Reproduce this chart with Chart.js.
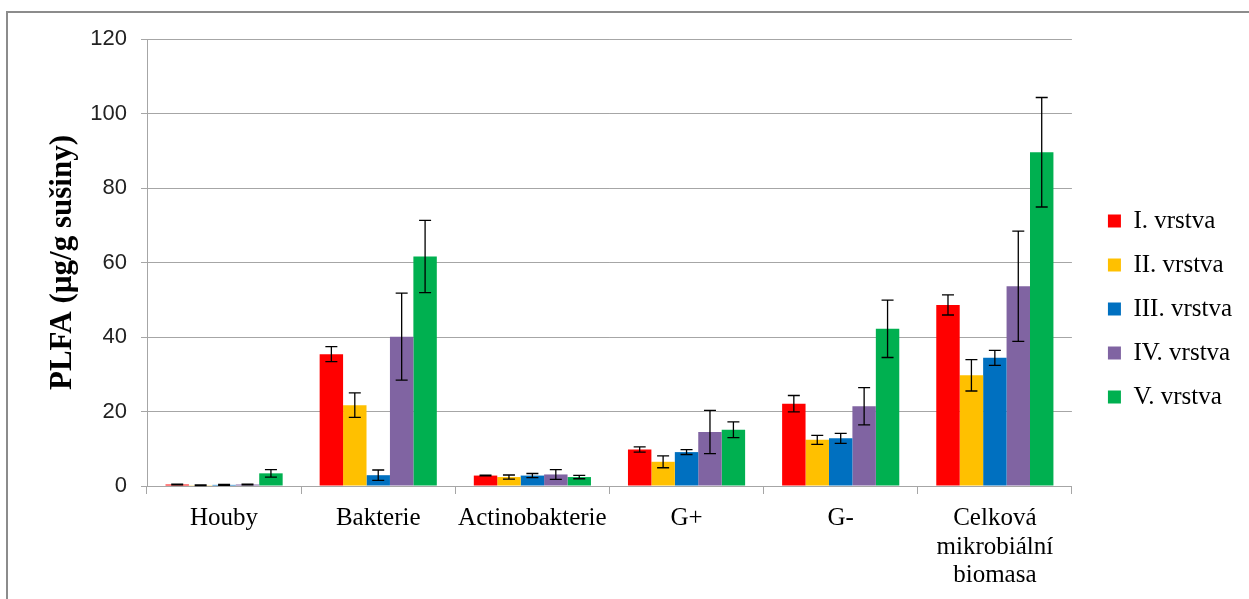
<!DOCTYPE html>
<html>
<head>
<meta charset="utf-8">
<script src="https://cdn.jsdelivr.net/npm/chart.js@4.4.1/dist/chart.umd.min.js"></script>
<style>
  html, body { margin: 0; padding: 0; background: #fff; width: 1249px; height: 599px; overflow: hidden; }
  #frame { position: absolute; left: 6px; top: 11px; width: 1300px; height: 700px; border: 2px solid #8c8c8c; box-sizing: border-box; pointer-events: none; }
  #wrap { position: absolute; left: 0; top: 0; width: 1249px; height: 599px; }
</style>
</head>
<body>
<div id="frame"></div>
<div id="wrap"><canvas id="c" width="1249" height="599"></canvas></div>
<script>
const categories = ['Houby', 'Bakterie', 'Actinobakterie', 'G+', 'G-', ['Celková', 'mikrobiální', 'biomasa']];
const seriesNames = ['I. vrstva', 'II. vrstva', 'III. vrstva', 'IV. vrstva', 'V. vrstva'];
const vrstvaI   = [0.4, 35.4, 2.8, 9.8, 22.1, 48.6];
const vrstvaII  = [0.2, 21.7, 2.4, 6.5, 12.4, 29.7];
const vrstvaIII = [0.3, 2.9, 2.8, 9.1, 12.8, 34.4];
const vrstvaIV  = [0.4, 40.1, 3.1, 14.5, 21.4, 53.6];
const vrstvaV   = [3.4, 61.6, 2.4, 15.1, 42.2, 89.6];
const errI   = [0.1, 2.0, 0.1, 0.7, 2.2, 2.7];
const errII  = [0.1, 3.3, 0.55, 1.6, 1.2, 4.2];
const errIII = [0.1, 1.4, 0.55, 0.65, 1.35, 2.0];
const errIV  = [0.1, 11.7, 1.3, 5.8, 5.0, 14.8];
const errV   = [1.0, 9.7, 0.45, 2.1, 7.7, 14.7];
const yTicks = [0, 20, 40, 60, 80, 100, 120];

const values = [vrstvaI, vrstvaII, vrstvaIII, vrstvaIV, vrstvaV];
const errors = [errI, errII, errIII, errIV, errV];
const colors = ['#FF0000', '#FFC000', '#0070C0', '#8064A2', '#00B050'];

const errorBarPlugin = {
  id: 'errorBars',
  afterLayout(chart) {
    // let the multi-line category labels extend below the axis box without clipping
    chart.scales.x.bottom = chart.height;
  },
  afterDatasetsDraw(chart) {
    const ctx = chart.ctx;
    const ys = chart.scales.y;
    ctx.save();
    ctx.strokeStyle = '#000';
    ctx.lineWidth = 1.3;
    chart.data.datasets.forEach((ds, i) => {
      const meta = chart.getDatasetMeta(i);
      meta.data.forEach((el, j) => {
        const v = ds.data[j], e = ds.errors[j];
        const x = el.x;
        const yt = ys.getPixelForValue(v + e);
        const yb = ys.getPixelForValue(Math.max(0, v - e));
        ctx.beginPath();
        ctx.moveTo(x, yt); ctx.lineTo(x, yb);
        ctx.moveTo(x - 6, yt); ctx.lineTo(x + 6, yt);
        ctx.moveTo(x - 6, yb); ctx.lineTo(x + 6, yb);
        ctx.stroke();
      });
    });
    ctx.restore();
  }
};

new Chart(document.getElementById('c'), {
  type: 'bar',
  data: {
    labels: categories,
    datasets: seriesNames.map((n, i) => ({
      label: n,
      data: values[i],
      errors: errors[i],
      backgroundColor: colors[i],
      borderWidth: 0,
      categoryPercentage: 0.76,
      barPercentage: 1.0,
      yAxisID: 'y'
    }))
  },
  options: {
    responsive: false,
    animation: false,
    layout: { padding: { left: 0, top: 39, right: 7, bottom: 20 } },
    plugins: {
      tooltip: { enabled: false },
      legend: {
        position: 'right',
        labels: {
          boxWidth: 13,
          boxHeight: 13,
          padding: 19,
          color: '#000',
          font: { family: '"Liberation Serif", "Times New Roman", serif', size: 25 }
        }
      }
    },
    scales: {
      x: {
        afterFit(scale) { scale.height = 93; },
        grid: { drawOnChartArea: false, drawTicks: true, tickLength: 8, color: '#a6a6a6', offset: true },
        border: { color: '#a6a6a6', width: 1 },
        ticks: {
          color: '#000',
          padding: 10,
          maxRotation: 0,
          autoSkip: false,
          font: { family: '"Liberation Serif", "Times New Roman", serif', size: 25, lineHeight: 1.15 }
        }
      },
      y: {
        position: 'left',
        min: 0,
        max: 120,
        afterBuildTicks(scale) { scale.ticks = yTicks.map(v => ({ value: v })); },
        afterFit(scale) { scale.width = 147; },
        grid: { color: '#a6a6a6', tickLength: 6, lineWidth: 1 },
        border: { color: '#a6a6a6', width: 1 },
        ticks: {
          color: '#222',
          padding: 14,
          font: { family: '"Liberation Sans", Arial, sans-serif', size: 22 }
        },
        title: {
          display: true,
          text: 'PLFA (µg/g sušiny)',
          color: '#000',
          padding: { top: 44, bottom: 0 },
          font: { family: '"Liberation Serif", "Times New Roman", serif', size: 31, weight: 'bold', lineHeight: 1.2 }
        }
      },
      yR: {
        position: 'right',
        display: true,
        grid: { display: false },
        border: { display: false },
        ticks: { display: false },
        afterFit(scale) { scale.width = 17; }
      }
    }
  },
  plugins: [errorBarPlugin]
});
</script>
</body>
</html>
